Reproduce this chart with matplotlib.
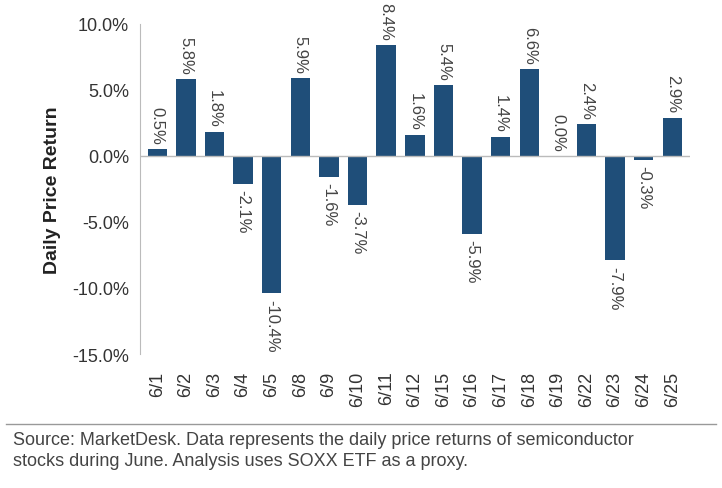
import matplotlib
matplotlib.use("Agg")
import matplotlib.pyplot as plt
plt.rcParams['font.family'] = ['Liberation Sans', 'DejaVu Sans']

dates = ["6/1","6/2","6/3","6/4","6/5","6/8","6/9","6/10","6/11","6/12","6/15","6/16","6/17","6/18","6/19","6/22","6/23","6/24","6/25"]
returns = [0.5,5.8,1.8,-2.1,-10.4,5.9,-1.6,-3.7,8.4,1.6,5.4,-5.9,1.4,6.6,0.0,2.4,-7.9,-0.3,2.9]

fig = plt.figure(figsize=(7.22,4.89), dpi=100)
ax = fig.add_axes([0.194,0.274,0.761,0.675])
x = range(len(dates))
ax.bar(x, returns, width=0.68, color="#1F4E79")
ax.set_ylim(-15,10)
ax.set_xlim(-0.6,len(dates)-0.4)
ax.set_yticks([-15,-10,-5,0,5,10])
ax.set_yticklabels([f"{v:.1f}%" for v in [-15,-10,-5,0,5,10]], fontsize=13, color="#333333")
ax.set_xticks(list(x))
ax.set_xticklabels(dates, rotation=90, fontsize=13, color="#333333")
ax.tick_params(axis="both", length=0, pad=8)
ax.tick_params(axis="x", pad=12)
for s in ["top","right","bottom"]:
    ax.spines[s].set_visible(False)
ax.spines["left"].set_color("#bbbbbb")
ax.axhline(0, color="#bbbbbb", lw=1)
ax.set_ylabel("Daily Price Return", fontsize=14, fontweight="bold", color="#222222", labelpad=8)
for i, v in enumerate(returns):
    off = 0.4
    if v >= 0:
        ax.text(i, v+off, f"{v:.1f}%", rotation=270, ha="center", va="bottom", fontsize=12, color="#444444")
    else:
        ax.text(i, v-off, f"{v:.1f}%", rotation=270, ha="center", va="top", fontsize=12, color="#444444")
fig.add_artist(plt.Line2D([0.008,0.992],[1-425/489]*2, color="#999999", lw=1))
fig.text(0.018, 1-432/489, "Source: MarketDesk. Data represents the daily price returns of semiconductor\nstocks during June. Analysis uses SOXX ETF as a proxy.",
         fontsize=13, color="#444444", va="top", linespacing=1.3)
fig.savefig("out.png", dpi=100)
